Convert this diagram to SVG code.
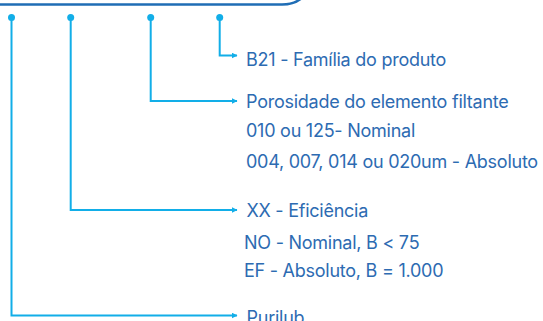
<svg xmlns="http://www.w3.org/2000/svg" width="543" height="321" viewBox="0 0 543 321">
<defs>
<style>
.conn{fill:none;stroke:#12aee8;stroke-width:2}
.dot{fill:#12aee8}
.t{font-family:Inter,"Liberation Sans",sans-serif;font-size:18px;fill:#2d6bb2;letter-spacing:-0.25px}
</style>
<marker id="ah" viewBox="0 0 6 6" refX="5.5" refY="3" markerWidth="6" markerHeight="6" markerUnits="userSpaceOnUse" orient="auto">
<path d="M0,0 L6,3 L0,6 Z" fill="#12aee8"/>
</marker>
</defs>
<rect width="543" height="321" fill="#ffffff"/>
<path d="M0,4.5 H282 Q295,4.5 303,-3" fill="none" stroke="#1f6db5" stroke-width="2.5"/>
<g id="connectors">
<circle class="dot" cx="11.5" cy="17.5" r="3.5"/>
<circle class="dot" cx="70.7" cy="17.5" r="3.5"/>
<circle class="dot" cx="150.7" cy="17.5" r="3.5"/>
<circle class="dot" cx="219.7" cy="17.5" r="3.5"/>
<path class="conn" d="M219.7,17.5 V55.5 H237" marker-end="url(#ah)"/>
<path class="conn" d="M150.7,17.5 V101 H237" marker-end="url(#ah)"/>
<path class="conn" d="M70.7,17.5 V210 H237" marker-end="url(#ah)"/>
<path class="conn" d="M11.5,17.5 V315.5 H237" marker-end="url(#ah)"/>
</g>
<g id="familia"><text class="t" x="246" y="66">B21 - Família do produto</text></g>
<g id="porosidade">
<text class="t" x="246" y="108.3">Porosidade do elemento filtante</text>
<text class="t" x="246" y="136.7">010 ou 125- Nominal</text>
<text class="t" x="246" y="168">004, 007, 014 ou 020um - Absoluto</text>
</g>
<g id="eficiencia">
<text class="t" x="246.5" y="216.7">XX - Eficiência</text>
<text class="t" x="244" y="249.3">NO - Nominal, B &lt; 75</text>
<text class="t" x="244" y="276.7">EF - Absoluto, B = 1.000</text>
</g>
<g id="purilub"><text class="t" x="246.5" y="324">Purilub</text></g>
</svg>
